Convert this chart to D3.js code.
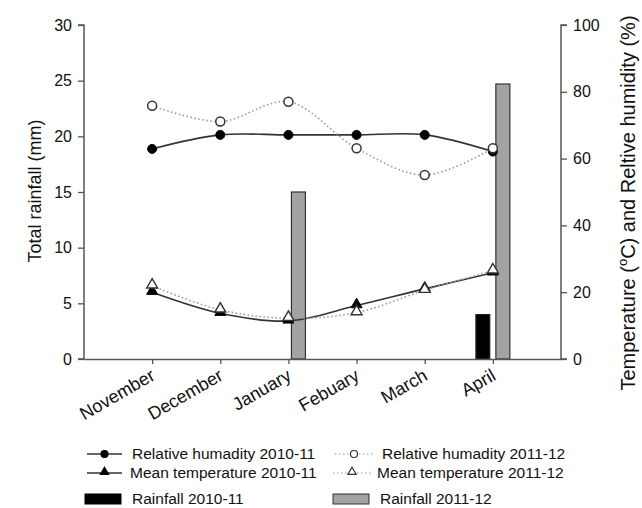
<!DOCTYPE html>
<html>
<head>
<meta charset="utf-8">
<script src="https://cdn.jsdelivr.net/npm/d3@7"></script>
<style>
  body { margin: 0; background: #fff; }
  svg { font-family: "Liberation Sans", Arial, sans-serif; }
</style>
</head>
<body>
<div id="chart"></div>
<script>
const months = ["November", "December", "January", "Febuary", "March", "April"];
const rh1011 = [62.9, 67.1, 67.1, 67.1, 67.1, 62.1];
const rh1112 = [75.8, 71.1, 77.0, 63.1, 55.1, 63.1];
const temp1011 = [20.0, 13.7, 11.4, 16.0, 21.0, 25.8];
const temp1112 = [21.9, 14.7, 12.2, 13.9, 20.6, 26.4];
const rain1011 = [0, 0, 0, 0, 0, 4];
const rain1112 = [0, 0, 15, 0, 0, 24.7];
const leftTicks = [0, 5, 10, 15, 20, 25, 30];
const rightTicks = [0, 20, 40, 60, 80, 100];

const width = 642, height = 508;
const margin = { left: 84, right: 81, top: 25, bottom: 149 };

const svg = d3.select("#chart").append("svg")
    .attr("width", width)
    .attr("height", height);

const x = d3.scalePoint()
    .domain(months)
    .range([margin.left, width - margin.right])
    .padding(1);

const yRain = d3.scaleLinear()
    .domain([0, 30])
    .range([height - margin.bottom, margin.top]);

const yPct = d3.scaleLinear()
    .domain([0, 100])
    .range([height - margin.bottom, margin.top]);

const axisColor = "#555";
const barW = 14;

// bars first, lines on top
const rainData = months.map((m, i) => ({ m, a: rain1011[i], b: rain1112[i] }));

svg.selectAll(".bar1011")
    .data(rainData.filter(d => d.a > 0))
    .enter().append("rect")
    .attr("class", "bar1011")
    .attr("x", d => x(d.m) - 3 - barW)
    .attr("y", d => yRain(d.a))
    .attr("width", barW)
    .attr("height", d => yRain(0) - yRain(d.a))
    .style("fill", "#000")
    .style("stroke", "#222");

svg.selectAll(".bar1112")
    .data(rainData.filter(d => d.b > 0))
    .enter().append("rect")
    .attr("class", "bar1112")
    .attr("x", d => x(d.m) + 3)
    .attr("y", d => yRain(d.b))
    .attr("width", barW)
    .attr("height", d => yRain(0) - yRain(d.b))
    .style("fill", "#a3a3a3")
    .style("stroke", "#333")
    .style("stroke-width", 1.2);

// axes
const gLeft = svg.append("g")
    .attr("transform", "translate(" + margin.left + ",0)")
    .call(d3.axisLeft(yRain).tickValues(leftTicks).tickSize(6).tickPadding(6));

const gRight = svg.append("g")
    .attr("transform", "translate(" + (width - margin.right) + ",0)")
    .call(d3.axisRight(yPct).tickValues(rightTicks).tickSize(6).tickPadding(6));

const gBottom = svg.append("g")
    .attr("transform", "translate(0," + (height - margin.bottom) + ")")
    .call(d3.axisBottom(x).tickSize(5).tickSizeOuter(0).tickFormat(""));

[gLeft, gRight, gBottom].forEach(g => {
    g.select(".domain").style("stroke", axisColor).style("stroke-width", 1.5);
    g.selectAll(".tick line").style("stroke", axisColor).style("stroke-width", 1.3);
    g.selectAll(".tick text").style("font-size", "16px").style("fill", "#111")
        .style("font-family", "'Liberation Sans', Arial, sans-serif");
});
gLeft.select(".domain").attr("d", "M-6," + yRain(30) + "H0V" + yRain(0) + "H-6");
gRight.select(".domain").attr("d", "M6," + yPct(100) + "H0V" + yPct(0) + "H6");

// month labels
svg.selectAll(".month")
    .data(months)
    .enter().append("text")
    .attr("class", "month")
    .attr("transform", d => "translate(" + (x(d) + 4) + "," + (height - margin.bottom + 20) + ") rotate(-30)")
    .style("text-anchor", "end")
    .style("font-size", "18px")
    .style("fill", "#111")
    .text(d => d);

// axis titles
svg.append("text")
    .attr("transform", "translate(41,191) rotate(-90)")
    .style("text-anchor", "middle")
    .style("font-size", "18px")
    .style("fill", "#111")
    .text("Total rainfall (mm)");

const rt = svg.append("text")
    .attr("transform", "translate(635,203) rotate(-90)")
    .style("text-anchor", "middle")
    .style("font-size", "20px")
    .style("fill", "#111");
rt.append("tspan").text("Temperature (");
rt.append("tspan").attr("dy", -8).style("font-size", "13px").text("o");
rt.append("tspan").attr("dy", 8).text("C) and Reltive humidity (%)");

// lines
const line = d3.line()
    .x(d => x(d.m))
    .y(d => yPct(d.v))
    .curve(d3.curveCatmullRom.alpha(0.5));

const series = [
    { key: "rh1011", values: rh1011, solid: true, shape: "circle", filled: true },
    { key: "rh1112", values: rh1112, solid: false, shape: "circle", filled: false },
    { key: "temp1011", values: temp1011, solid: true, shape: "triangle", filled: true },
    { key: "temp1112", values: temp1112, solid: false, shape: "triangle", filled: false }
];

const triangle = d3.symbol().type(d3.symbolTriangle).size(52);

function drawMarker(g, s, cx, cy) {
    if (s.shape === "circle") {
        g.append("circle")
            .attr("cx", cx)
            .attr("cy", cy)
            .attr("r", 4.5)
            .style("fill", s.filled ? "#000" : "#fff")
            .style("stroke", s.filled ? "#000" : "#333")
            .style("stroke-width", s.filled ? 1 : 1.5);
    } else {
        g.append("path")
            .attr("d", triangle)
            .attr("transform", "translate(" + cx + "," + (cy - 1) + ")")
            .style("fill", s.filled ? "#000" : "#fff")
            .style("stroke", s.filled ? "#000" : "#333")
            .style("stroke-width", s.filled ? 1 : 1.4);
    }
}

series.forEach(s => {
    const pts = months.map((m, i) => ({ m, v: s.values[i] }));
    svg.append("path")
        .datum(pts)
        .attr("d", line)
        .style("fill", "none")
        .style("stroke", s.solid ? "#333" : "#999")
        .style("stroke-width", 1.6)
        .style("stroke-dasharray", s.solid ? null : "1.5,2.5");
    const g = svg.append("g");
    pts.forEach(p => drawMarker(g, s, x(p.m), yPct(p.v)));
});

// legend
const legend = svg.append("g").attr("class", "legend");
const legendItems = [
    { s: series[0], label: "Relative humadity 2010-11", lx: 87, ly: 454, len: 35, tx: 132 },
    { s: series[1], label: "Relative humadity 2011-12", lx: 335, ly: 454, len: 38, tx: 382 },
    { s: series[2], label: "Mean temperature 2010-11", lx: 87, ly: 473, len: 35, tx: 130 },
    { s: series[3], label: "Mean temperature 2011-12", lx: 333, ly: 473, len: 38, tx: 377 }
];

legendItems.forEach(d => {
    legend.append("line")
        .attr("x1", d.lx)
        .attr("x2", d.lx + d.len)
        .attr("y1", d.ly)
        .attr("y2", d.ly)
        .style("stroke", d.s.solid ? "#333" : "#bbb")
        .style("stroke-width", d.s.solid ? 1.6 : 1.4)
        .style("stroke-dasharray", d.s.solid ? null : "1.5,2.5");
    if (d.s.shape === "circle") {
        legend.append("circle")
            .attr("cx", d.lx + d.len / 2)
            .attr("cy", d.ly)
            .attr("r", 3.5)
            .style("fill", d.s.filled ? "#000" : "#fff")
            .style("stroke", d.s.filled ? "#000" : "#333")
            .style("stroke-width", 1.2);
    } else {
        legend.append("path")
            .attr("d", d3.symbol().type(d3.symbolTriangle).size(30))
            .attr("transform", "translate(" + (d.lx + d.len / 2) + "," + (d.ly - 1) + ")")
            .style("fill", d.s.filled ? "#000" : "#fff")
            .style("stroke", d.s.filled ? "#000" : "#333")
            .style("stroke-width", 1.2);
    }
    legend.append("text")
        .attr("x", d.tx)
        .attr("y", d.ly)
        .attr("dy", ".35em")
        .style("font-size", "15.5px")
        .style("fill", "#111")
        .text(d.label);
});

const barLegend = [
    { label: "Rainfall 2010-11", fill: "#000", stroke: "#000", rx: 85, tx: 132 },
    { label: "Rainfall 2011-12", fill: "#a3a3a3", stroke: "#333", rx: 333, tx: 380 }
];

barLegend.forEach(d => {
    legend.append("rect")
        .attr("x", d.rx)
        .attr("y", 494)
        .attr("width", 36)
        .attr("height", 10)
        .style("fill", d.fill)
        .style("stroke", d.stroke);
    legend.append("text")
        .attr("x", d.tx)
        .attr("y", 499)
        .attr("dy", ".35em")
        .style("font-size", "15.5px")
        .style("fill", "#111")
        .text(d.label);
});
</script>
</body>
</html>
